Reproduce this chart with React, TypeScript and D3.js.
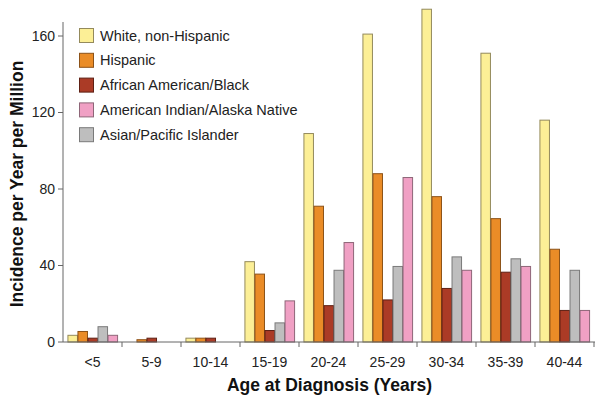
import React from 'react';
import * as d3 from 'd3';

const ages = ['<5', '5-9', '10-14', '15-19', '20-24', '25-29', '30-34', '35-39', '40-44'];

// bar order within a group (differs from legend order)
const barSeries = ['White, non-Hispanic', 'Hispanic', 'African American/Black', 'Asian/Pacific Islander', 'American Indian/Alaska Native'];
const legendSeries = ['White, non-Hispanic', 'Hispanic', 'African American/Black', 'American Indian/Alaska Native', 'Asian/Pacific Islander'];

const white = [3.5, 0, 2, 42, 109, 161, 174, 151, 116];
const hispanic = [5.5, 1.2, 2, 35.5, 71, 88, 76, 64.5, 48.5];
const black = [2, 2, 2, 6, 19, 22, 28, 36.5, 16.5];
const asian = [8, 0, 0, 10, 37.5, 39.5, 44.5, 43.5, 37.5];
const aian = [3.5, 0, 0, 21.5, 52, 86, 37.5, 39.5, 16.5];

const yTicks = [0, 40, 80, 120, 160];

const values: Record<string, number[]> = {
  'White, non-Hispanic': white,
  'Hispanic': hispanic,
  'African American/Black': black,
  'Asian/Pacific Islander': asian,
  'American Indian/Alaska Native': aian,
};

const fills: Record<string, string> = {
  'White, non-Hispanic': '#fcef96',
  'Hispanic': '#ea8c27',
  'African American/Black': '#ab3b26',
  'Asian/Pacific Islander': '#bebebe',
  'American Indian/Alaska Native': '#f0a0c4',
};
const strokes: Record<string, string> = {
  'White, non-Hispanic': '#948a5c',
  'Hispanic': '#8c5218',
  'African American/Black': '#5e2014',
  'Asian/Pacific Islander': '#7a7a7a',
  'American Indian/Alaska Native': '#8e6678',
};

const font = 'Liberation Sans, Arial, sans-serif';

export default function App() {
  const width = 601;
  const height = 403;
  const left = 63;
  const right = 594;
  const bottom = 342;

  const x0 = d3.scaleBand<string>().domain(ages).range([left, right]).paddingInner(0.15).paddingOuter(0.075);
  const x1 = d3.scaleBand<string>().domain(barSeries).range([0, x0.bandwidth()]);
  const y = d3.scaleLinear().domain([0, 160]).range([bottom, 36]);
  const step = x0.step();
  const boundary = (a: string) => (x0(a) as number) - step * 0.075;

  return (
    <svg width={width} height={height} style={{ position: 'absolute', left: 0, top: 0, background: '#fff' }} fontFamily={font}>
      {/* bars */}
      {ages.map((a, i) => (
        <g key={a} transform={`translate(${x0(a)},0)`}>
          {barSeries.map((s) => {
            const v = values[s][i];
            if (v <= 0) return null;
            return (
              <rect
                key={s}
                x={(x1(s) as number) + 0.5}
                y={y(v)}
                width={x1.bandwidth() - 0.5}
                height={bottom - y(v)}
                fill={fills[s]}
                stroke={strokes[s]}
                strokeWidth={1}
              />
            );
          })}
        </g>
      ))}

      {/* y axis */}
      <line x1={left} x2={left} y1={22} y2={bottom} stroke="#666" strokeWidth={1} />
      {yTicks.map((t) => (
        <g key={t}>
          <line x1={left - 5} x2={left} y1={y(t)} y2={y(t)} stroke="#666" />
          <text x={left - 8} y={y(t)} dy="0.35em" textAnchor="end" fontSize={14} fill="#222">{t}</text>
        </g>
      ))}

      {/* x axis */}
      <line x1={left} x2={right + 1} y1={bottom} y2={bottom} stroke="#666" strokeWidth={1} />
      {ages.slice(1).map((a) => (
        <line key={a} x1={boundary(a)} x2={boundary(a)} y1={bottom} y2={bottom + 5} stroke="#666" />
      ))}
      <line x1={right} x2={right} y1={bottom} y2={bottom + 5} stroke="#666" />
      {ages.map((a) => (
        <text key={a} x={(x0(a) as number) + x0.bandwidth() / 2} y={362} dy="0.35em" textAnchor="middle" fontSize={14} fill="#222">{a}</text>
      ))}

      <text x={(left + right) / 2 + 1} y={391} textAnchor="middle" fontSize={17.5} fontWeight="bold" fill="#111">Age at Diagnosis (Years)</text>
      <text transform={`translate(23,${184}) rotate(-90)`} textAnchor="middle" fontSize={17.5} fontWeight="bold" fill="#111">Incidence per Year per Million</text>

      {/* legend */}
      {legendSeries.map((s, i) => (
        <g key={s} transform={`translate(79,${28 + i * 24.8})`}>
          <rect x={0.5} y={0.5} width={14} height={14} fill={fills[s]} stroke={strokes[s]} />
          <text x={21} y={7.5} dy="0.35em" fontSize={14.5} fill="#222">{s}</text>
        </g>
      ))}
    </svg>
  );
}
